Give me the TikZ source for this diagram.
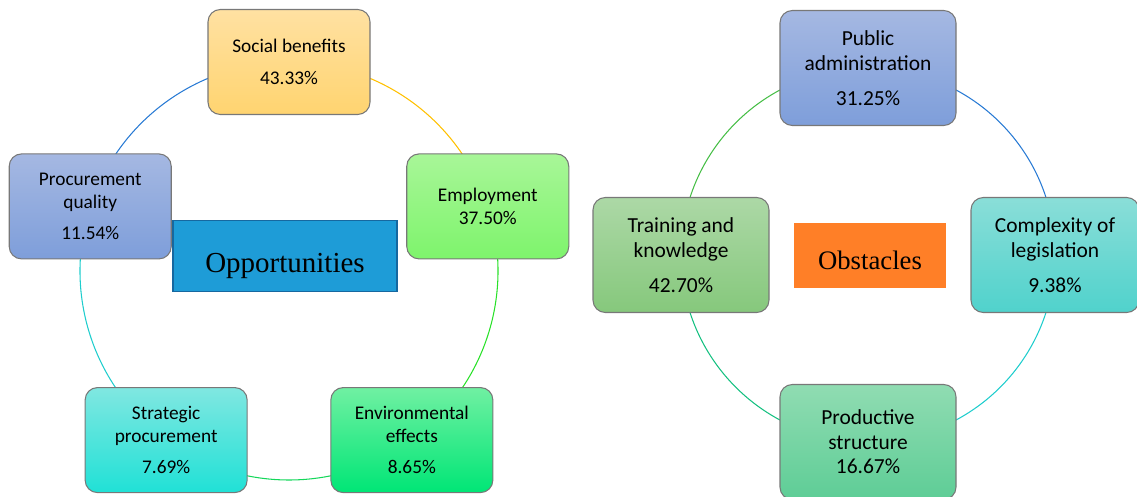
\documentclass[tikz,border=0pt]{standalone}
\usepackage{fontspec}
\setmainfont{Carlito}
\newfontfamily\headfont{Liberation Serif}
\usetikzlibrary{backgrounds}

% box and ring colours
\definecolor{edgegray}{RGB}{120,120,120}
\definecolor{socialtop}{RGB}{255,225,162}
\definecolor{socialbot}{RGB}{255,212,112}
\definecolor{employtop}{RGB}{168,246,152}
\definecolor{employbot}{RGB}{126,244,108}
\definecolor{procqtop}{RGB}{165,184,226}
\definecolor{procqbot}{RGB}{126,158,218}
\definecolor{strattop}{RGB}{128,231,225}
\definecolor{stratbot}{RGB}{32,225,214}
\definecolor{envtop}{RGB}{112,240,162}
\definecolor{envbot}{RGB}{0,230,118}
\definecolor{traintop}{RGB}{172,216,166}
\definecolor{trainbot}{RGB}{134,200,124}
\definecolor{compltop}{RGB}{138,222,216}
\definecolor{complbot}{RGB}{80,210,204}
\definecolor{prodtop}{RGB}{144,220,178}
\definecolor{prodbot}{RGB}{94,205,150}
\definecolor{oppblue}{RGB}{30,156,215}
\definecolor{oppedge}{RGB}{22,104,160}
\definecolor{obsorange}{RGB}{255,127,39}
\definecolor{arcblue}{RGB}{40,122,212}
\definecolor{arcyellow}{RGB}{255,192,0}
\definecolor{arcgreen}{RGB}{40,225,40}
\definecolor{arcmint}{RGB}{20,215,90}
\definecolor{arccyan}{RGB}{30,205,205}
\definecolor{arcteal}{RGB}{20,192,128}
\definecolor{arcleaf}{RGB}{70,190,70}

\tikzset{
  cell/.style={draw=edgegray, line width=0.6pt, rounded corners=7pt,
    align=center, inner sep=2pt},
  lcell/.style={cell, minimum width=3.24cm, minimum height=2.1cm,
    font=\fontsize{11}{12.8}\selectfont},
  rcell/.style={cell, minimum width=3.52cm, minimum height=2.3cm,
    font=\fontsize{12.2}{13.9}\selectfont},
  ring/.style={line width=0.6pt},
  shades/.style 2 args={top color=#1, bottom color=#2},
}

\begin{document}
\begin{tikzpicture}
   \useasboundingbox (0,0) rectangle (22.74,9.92);
   \coordinate (lc) at (5.78,4.50);   % left ring, radius 4.18
   \coordinate (rc) at (17.36,4.82);  % right ring, radius 3.74

   % opportunities
   \node[lcell, shades={socialtop}{socialbot}] (social) at ([shift={(90:4.18)}]lc) {Social benefits\\[5pt]43.33\%};
   \node[lcell, shades={employtop}{employbot}] (employ) at ([shift={(18:4.18)}]lc) {Employment\\37.50\%};
   \node[lcell, shades={envtop}{envbot}] (env) at ([shift={(-54:4.18)}]lc) {Environmental\\effects\\[5pt]8.65\%};
   \node[lcell, shades={strattop}{stratbot}] (strat) at ([shift={(-126:4.18)}]lc) {Strategic\\procurement\\[5pt]7.69\%};
   \node[lcell, shades={procqtop}{procqbot}] (procq) at ([shift={(162:4.18)}]lc) {Procurement\\quality\\[5pt]11.54\%};
   \node[draw=oppedge, line width=1pt, fill=oppblue, minimum width=4.48cm, minimum height=1.42cm,
         text height=0.64cm, text depth=0cm,
         font=\headfont\fontsize{16.5}{18}\selectfont] (opp) at (5.70,4.80) {Opportunities};

   % obstacles
   \node[rcell, shades={procqtop}{procqbot}] (pub) at ([shift={(90:3.74)}]rc) {Public\\administration\\[6pt]31.25\%};
   \node[rcell, minimum width=3.36cm, shades={compltop}{complbot}] (compl) at ([shift={(0:3.74)}]rc) {Complexity of\\legislation\\[6pt]9.38\%};
   \node[rcell, shades={prodtop}{prodbot}] (prod) at ([shift={(-90:3.74)}]rc) {Productive\\structure\\16.67\%};
   \node[rcell, shades={traintop}{trainbot}] (train) at ([shift={(180:3.74)}]rc) {Training and\\knowledge\\[6pt]42.70\%};
   \node[fill=obsorange, minimum width=3.04cm, minimum height=1.30cm,
         text height=0.58cm, text depth=0cm,
         font=\headfont\fontsize{15.2}{17}\selectfont] (obs) at (17.40,4.82) {Obstacles};

   \begin{scope}[on background layer]
     \draw[ring, arcyellow] (social.center) arc[start angle=90, end angle=18, radius=4.18];
     \draw[ring, arcgreen] (employ.center) arc[start angle=18, end angle=-54, radius=4.18];
     \draw[ring, arcmint] (env.center) arc[start angle=-54, end angle=-126, radius=4.18];
     \draw[ring, arccyan] (strat.center) arc[start angle=-126, end angle=-198, radius=4.18];
     \draw[ring, arcblue] (procq.center) arc[start angle=162, end angle=90, radius=4.18];

     \draw[ring, arcblue] (pub.center) arc[start angle=90, end angle=0, radius=3.74];
     \draw[ring, arccyan] (compl.center) arc[start angle=0, end angle=-90, radius=3.74];
     \draw[ring, arcteal] (prod.center) arc[start angle=-90, end angle=-180, radius=3.74];
     \draw[ring, arcleaf] (train.center) arc[start angle=180, end angle=90, radius=3.74];
   \end{scope}
\end{tikzpicture}
\end{document}
